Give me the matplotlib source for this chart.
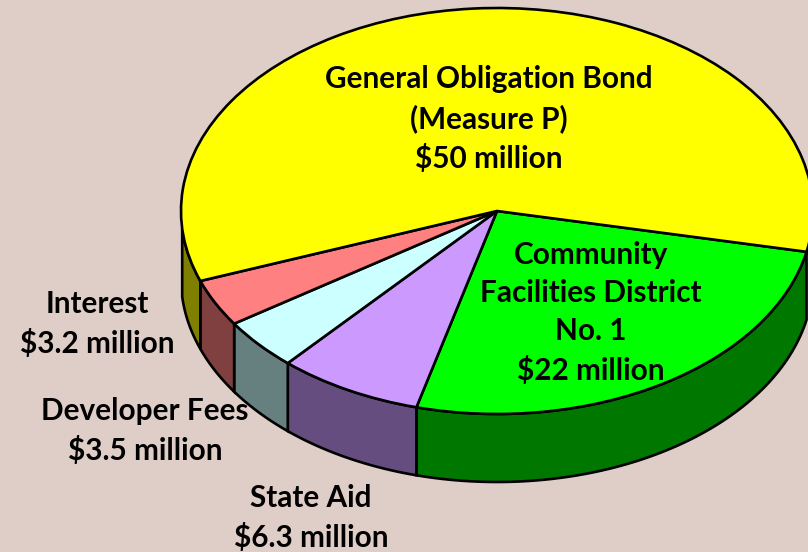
import numpy as np
import matplotlib
matplotlib.use("Agg")
import matplotlib.pyplot as plt

labels = ["Community\nFacilities District\nNo. 1\n$22 million", "State Aid\n$6.3 million",
          "Developer Fees\n$3.5 million", "Interest\n$3.2 million",
          "General Obligation Bond\n(Measure P)\n$50 million"]
values = [22, 6.3, 3.5, 3.2, 50]
top_colors = ["#00FF00", "#CC99FF", "#CCFFFF", "#FF8080", "#FFFF00"]
side_colors = ["#007800", "#664D80", "#668080", "#804040", "#808000"]
bg = "#DFCEC8"
W, H = 808, 552
cx, cy, a, b, depth = 497, 211, 316, 203, 68
start = -11.6

fig = plt.figure(figsize=(W / 100, H / 100), dpi=100, facecolor=bg)
ax = fig.add_axes([0, 0, 1, 1])
lw = 1.9
wedges, _ = ax.pie(values, colors=top_colors, startangle=start, counterclock=False, radius=1,
                   wedgeprops=dict(edgecolor="black", linewidth=lw, zorder=3))
ax.set_aspect("auto")
ax.set_xlim(-cx / a, (W - cx) / a)
ax.set_ylim((cy - H) / b, cy / b)
ax.set_axis_off()
d = depth / b

angle = start
for v, c in zip(values, side_colors):
    th1 = angle - v / sum(values) * 360
    l, h = max(th1, -175), angle
    if h > l:
        t = np.radians(np.linspace(l, h, 80))
        xs = np.r_[np.cos(t), np.cos(t[::-1])]
        ys = np.r_[np.sin(t), np.sin(t[::-1]) - d]
        ax.fill(xs, ys, facecolor=c, edgecolor="black", linewidth=lw, zorder=2)
    angle = th1

font = dict(family="Lato", fontweight="bold", color="black", ha="center", va="center",
            fontsize=21.4, linespacing=1.45, zorder=5)
def T(px, py, s):
    ax.text((px - cx) / a, (cy - py) / b, s, **font)
T(489, 119, labels[4])
T(591, 313, labels[0])
T(97, 324, labels[3])
T(145, 431, labels[2])
T(311, 518, labels[1])

fig.savefig("out.png", dpi=100, facecolor=bg)
